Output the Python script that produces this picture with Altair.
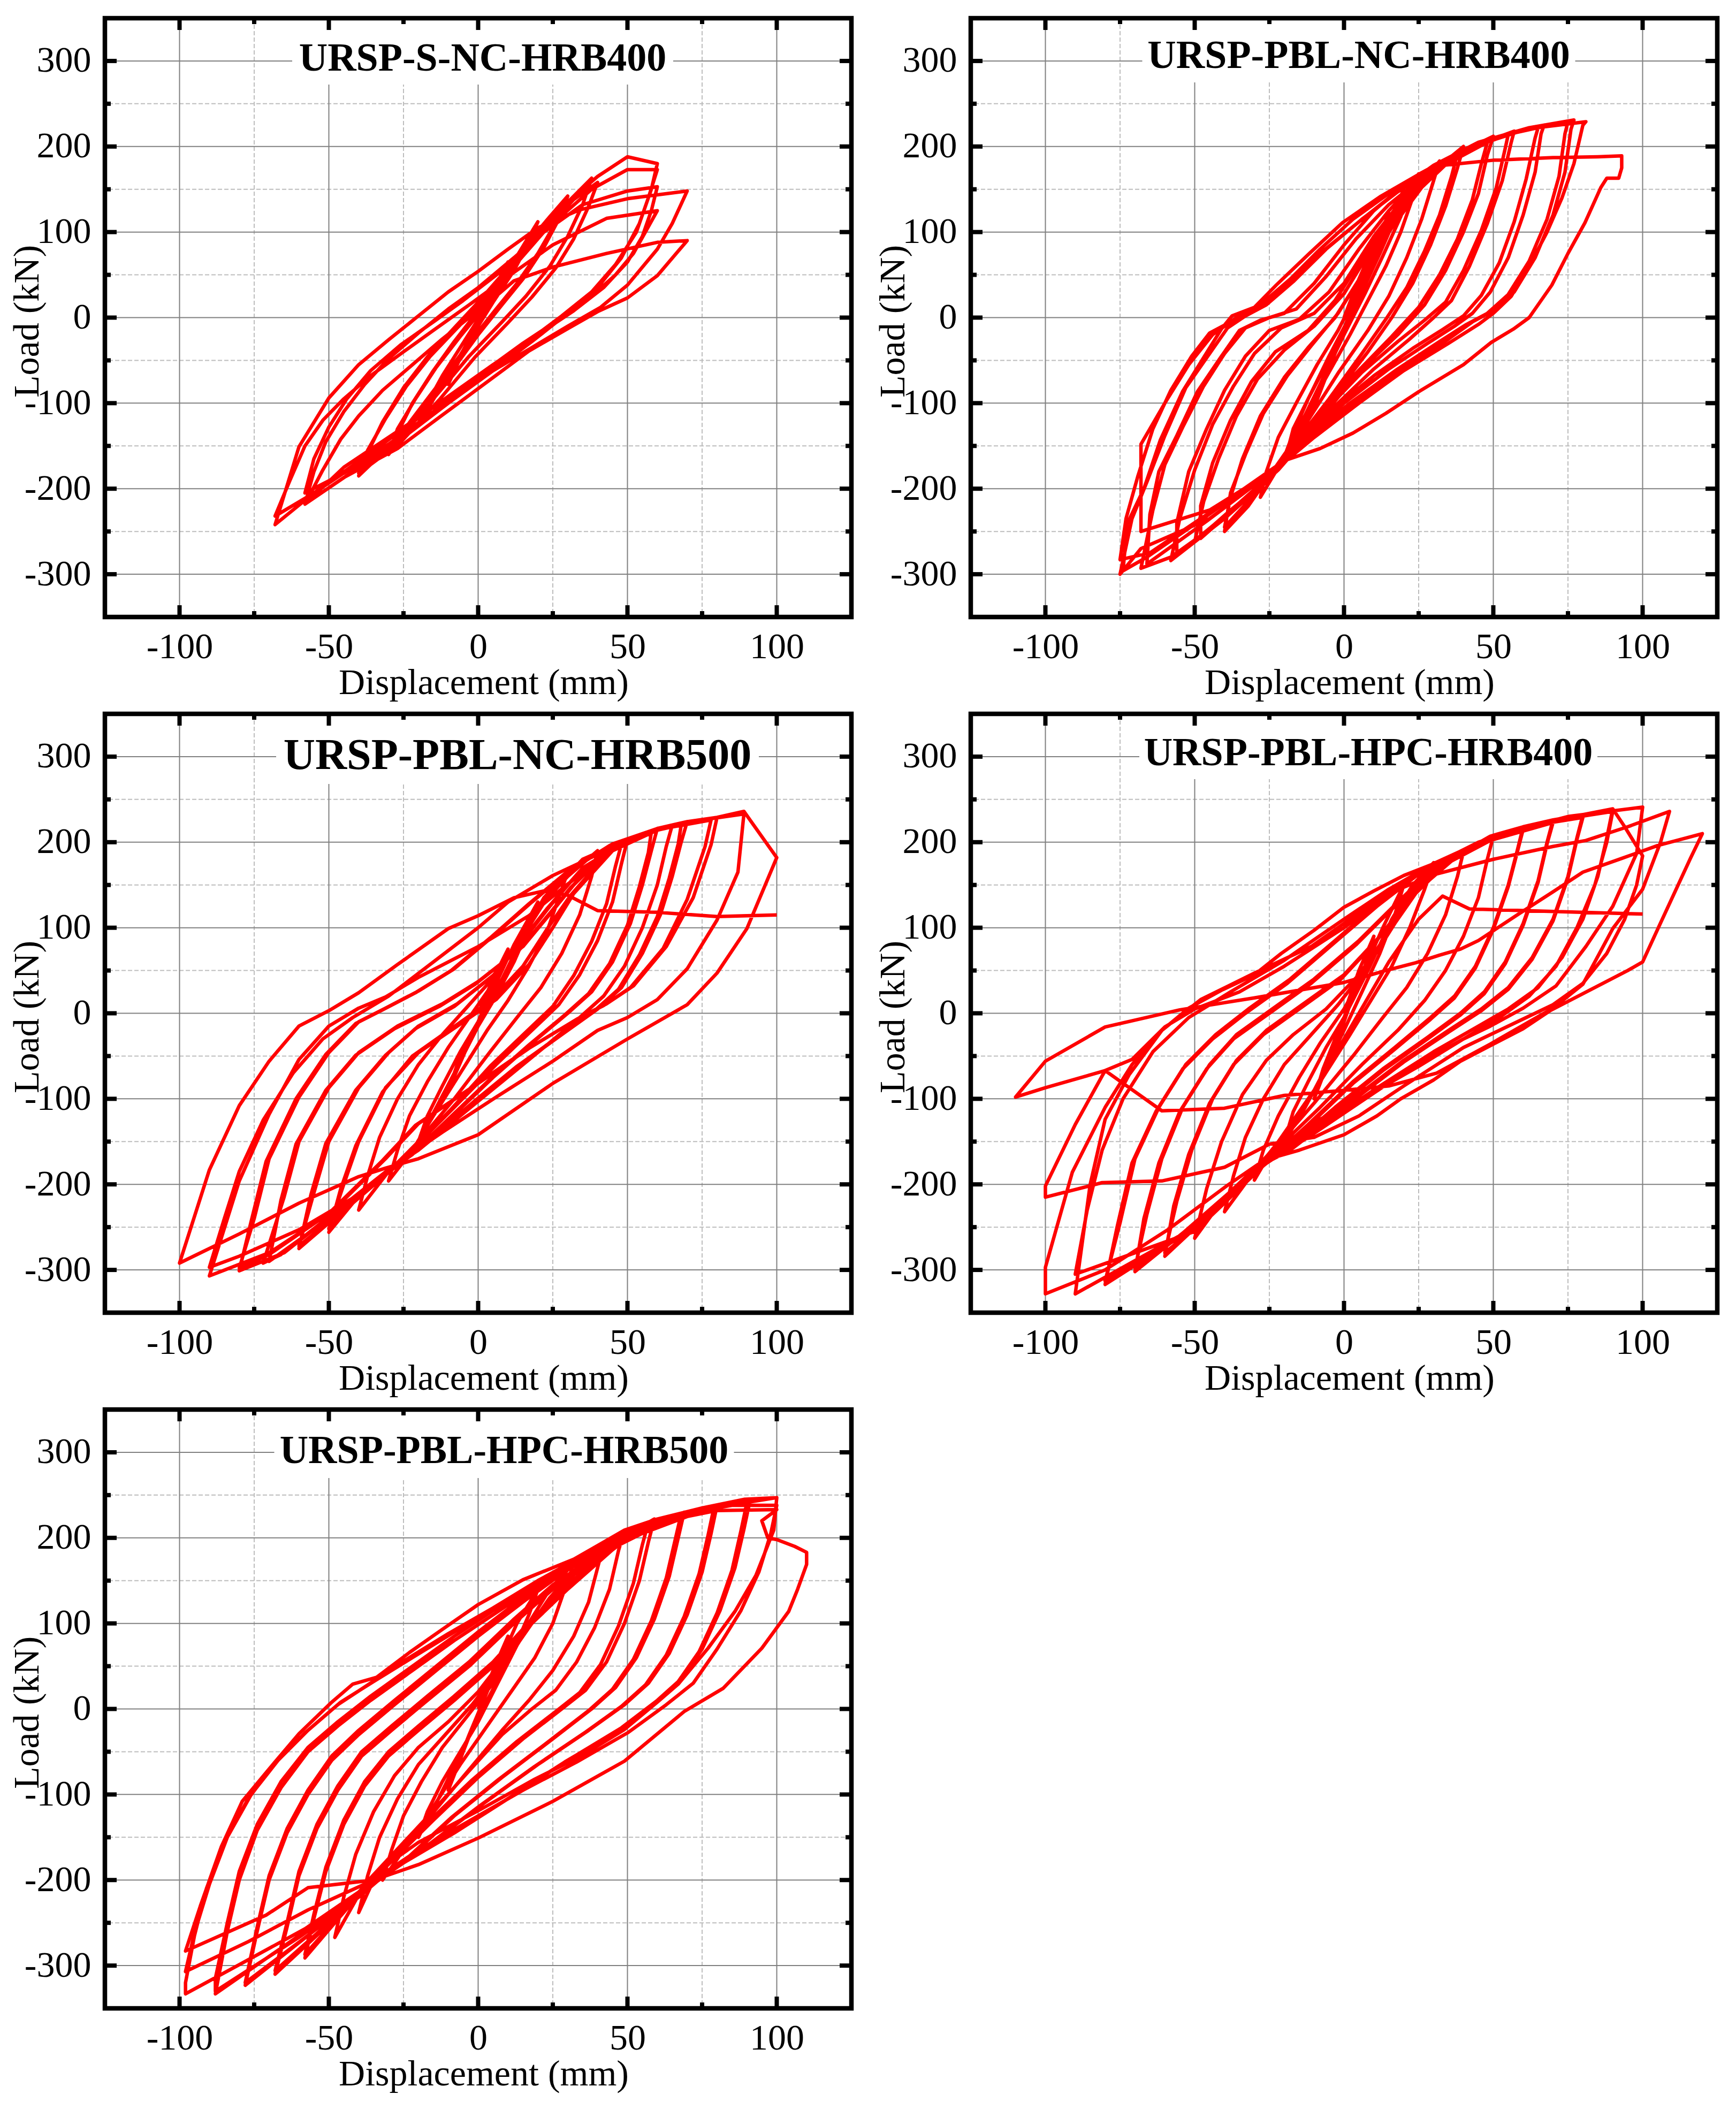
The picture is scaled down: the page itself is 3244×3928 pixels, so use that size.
import altair as alt
import pandas as pd

# ---------------- data ----------------
TITLES = ["URSP-S-NC-HRB400", "URSP-PBL-NC-HRB400", "URSP-PBL-NC-HRB500",
          "URSP-PBL-HPC-HRB400", "URSP-PBL-HPC-HRB500"]
X_MAJOR = [-100, -50, 0, 50, 100]
X_MINOR = [-75, -25, 25, 75]
Y_MAJOR = [-300, -200, -100, 0, 100, 200, 300]
Y_MINOR = [-250, -150, -50, 50, 150, 250]
X_TITLE = "Displacement (mm)"
Y_TITLE = "Load (kN)"

P1 = [
(0,0),(5,32),(10,65),
(7,42),(3,15),(0,-5),(-5,-38),(-10,-78),
(-7,-55),(-3,-25),(0,-5),(6,30),(13,72),(20,112),
(17,88),(12,55),(5,18),(0,-10),(-8,-55),(-14,-90),(-20,-125),
(-17,-100),(-12,-68),(-6,-35),(0,-2),(8,42),(16,85),(24,118),(30,142),
(27,115),(22,82),(15,45),(8,15),(0,-20),(-10,-68),(-20,-115),(-30,-160),
(-27,-130),(-21,-95),(-14,-58),(-6,-22),(2,12),(11,55),(20,95),(28,132),
(25,105),(20,75),(13,40),(6,10),(-2,-25),(-12,-72),(-22,-118),(-30,-155),
(-27,-135),(-22,-100),(-15,-62),(-8,-28),(0,8),(10,55),(20,100),(30,135),(38,163),
(35,132),(30,95),(24,60),(16,25),(8,-5),(-3,-45),(-15,-95),(-28,-145),(-40,-185),
(-37,-155),(-31,-118),(-24,-80),(-16,-45),(-7,-12),(2,20),(12,60),(22,100),(32,138),(40,158),
(37,130),(32,92),(26,58),(18,24),(10,-6),(-1,-46),(-13,-96),(-26,-146),(-40,-182),
(-37,-158),(-32,-122),(-25,-82),(-17,-46),(-8,-12),(0,18),(10,58),(20,98),(30,135),(40,165),(50,188),(60,180),
(58,150),(54,110),(48,70),(40,35),(30,5),(18,-28),(5,-62),(-10,-100),(-25,-140),(-42,-180),(-58,-218),
(-55,-180),(-51,-145),(-45,-110),(-38,-78),(-30,-48),(-20,-18),(-10,10),(0,35),(12,70),(25,110),(38,150),(50,173),(60,173),
(57,140),(53,100),(46,62),(38,30),(28,2),(15,-32),(0,-70),(-15,-110),(-30,-148),(-45,-182),(-58,-205),
(-55,-165),(-50,-128),(-44,-95),(-36,-62),(-26,-32),(-15,-5),(-5,20),(8,55),(20,95),(35,132),(50,148),(60,153),
(58,125),(55,95),(50,65),(42,35),(32,8),(20,-20),(5,-55),(-10,-92),(-25,-130),(-40,-168),(-55,-205),(-68,-242),
(-60,-151),(-50,-94),(-40,-55),(-30,-26),(-20,2),(-10,30),(0,54),(10,80),(20,105),(34,126),(50,139),(70,148),
(65,110),(60,80),(50,38),(41,12),(30,-10),(18,-35),(5,-62),(-10,-98),(-25,-138),(-40,-170),(-55,-205),(-68,-232),
(-63,-190),(-58,-150),(-52,-120),(-45,-95),(-36,-68),(-25,-40),(-15,-15),(-3,15),(10,48),(25,85),(43,116),(60,125),
(56,100),(52,75),(46,50),(38,25),(28,0),(15,-30),(0,-68),(-15,-105),(-30,-140),(-45,-175),(-58,-218),
(-52,-178),(-46,-142),(-40,-115),(-32,-85),(-22,-55),(-12,-25),(-3,0),(5,22),(12,43),(25,59),(43,75),(60,88),(70,90),
(60,49),(50,23),(40,7),(30,-13),(17,-39),(0,-83),(-12,-114),(-27,-153),(-45,-187),(-58,-218),
]

P2 = [
(0,0),(5,45),(10,85),
(7,55),(3,20),(0,-15),(-5,-60),(-10,-105),
(-7,-75),(-3,-40),(0,-15),(5,35),(10,80),(15,122),
(12,90),(8,55),(3,15),(0,-15),(-5,-60),(-10,-100),(-15,-140),
(-12,-110),(-8,-78),(-3,-40),(2,0),(7,45),(13,95),(20,150),
(17,115),(12,75),(6,30),(0,-15),(-6,-65),(-12,-115),(-20,-170),
(-17,-130),(-11,-88),(-5,-45),(1,-5),(8,45),(15,100),(22,150),
(19,118),(13,72),(7,28),(0,-20),(-8,-78),(-15,-128),(-21,-172),
(-17,-135),(-12,-95),(-6,-55),(0,-15),(6,30),(12,80),(18,125),(25,168),
(23,140),(19,100),(14,60),(8,20),(2,-20),(-6,-70),(-14,-120),(-22,-175),(-28,-210),
(-26,-180),(-22,-140),(-16,-100),(-9,-55),(-2,-15),(6,40),(14,95),(22,140),(32,183),
(30,160),(26,115),(21,70),(15,25),(8,-15),(-2,-65),(-12,-120),(-22,-170),(-32,-220),(-40,-250),
(-38,-205),(-33,-160),(-27,-112),(-19,-68),(-11,-33),(-2,5),(7,55),(16,105),(26,152),(38,192),
(36,165),(32,120),(27,78),(21,35),(14,-2),(6,-42),(-5,-95),(-16,-145),(-25,-188),(-40,-245),
(-38,-210),(-34,-165),(-28,-115),(-20,-70),(-12,-35),(-3,0),(6,50),(15,100),(25,150),(33,180),(40,200),
(38,175),(34,130),(29,85),(23,40),(16,0),(8,-40),(-3,-90),(-14,-140),(-24,-185),(-38,-225),(-50,-262),
(-47,-215),(-42,-165),(-36,-115),(-29,-72),(-20,-38),(-10,-10),(0,28),(10,85),(20,135),(32,175),(48,205),
(46,180),(43,138),(38,92),(32,50),(25,12),(16,-22),(4,-65),(-8,-112),(-18,-152),(-25,-188),(-48,-258),
(-48,-220),(-44,-170),(-38,-120),(-31,-75),(-23,-40),(-12,-15),(-3,20),(8,80),(18,130),(28,165),(40,195),(50,212),
(48,190),(45,145),(40,100),(34,55),(27,15),(18,-20),(6,-60),(-6,-110),(-16,-150),(-24,-185),(-40,-235),(-58,-284),
(-55,-235),(-50,-178),(-44,-125),(-37,-80),(-30,-42),(-21,-12),(-10,5),(0,40),(10,95),(20,140),(32,178),(45,203),(55,214),
(54,198),(51,152),(46,102),(40,55),(34,18),(27,-3),(18,-28),(6,-64),(-8,-115),(-18,-155),(-24,-182),(-40,-232),(-56,-278),
(-56,-240),(-52,-180),(-46,-130),(-40,-85),(-33,-45),(-25,-15),(-15,-2),(-5,30),(5,80),(15,125),(25,162),(40,196),(57,218),
(56,205),(53,160),(48,110),(42,60),(36,20),(30,0),(22,-25),(10,-60),(-5,-110),(-15,-150),(-22,-178),(-40,-235),(-58,-280),(-68,-293),
(-64,-225),(-60,-172),(-54,-128),(-47,-80),(-40,-42),(-33,-12),(-25,0),(-16,10),(-6,48),(4,92),(15,132),(26,163),(40,195),(52,212),(65,222),
(64,210),(61,162),(57,112),(52,64),(46,26),(40,2),(33,-14),(23,-36),(10,-68),(-4,-108),(-16,-148),(-24,-180),(-46,-238),(-66,-288),
(-65,-230),(-62,-180),(-56,-138),(-49,-86),(-41,-45),(-35,-15),(-28,-3),(-20,5),(-10,40),(0,85),(10,125),(20,155),(32,180),(45,205),(55,215),(67,225),
(66,215),(64,170),(60,120),(55,70),(49,30),(43,5),(37,-10),(28,-30),(15,-60),(0,-100),(-12,-140),(-22,-175),(-45,-235),(-68,-270),(-75,-300),
(-71,-235),(-66,-192),(-60,-138),(-53,-82),(-45,-42),(-39,-12),(-33,2),(-26,15),(-17,42),(-6,80),(6,115),(18,147),(30,174),(45,202),(60,219),(75,229),
(74,215),(72,165),(68,115),(62,66),(55,27),(48,5),(41,-8),(32,-28),(18,-60),(2,-100),(-12,-140),(-23,-175),(-46,-232),(-66,-280),(-74,-296),
(-72.6,-241),(-67,-200),(-61.5,-143),(-54,-86),(-46.7,-45),(-41,-13),(-37.5,2),(-30,12),(-22.7,38),(-11.6,75),(-0.5,111),(12.4,142),(25.3,168),(36.4,189),(49,209),(62,222),(77,231),
(76,220),(74,170),(70,120),(64,70),(57,30),(50,8),(43,-5),(35,-25),(22,-55),(5,-95),(-10,-135),(-22,-172),(-45,-228),(-65,-275),(-75,-283),
(-73,-235),(-69,-185),(-64,-130),(-58,-85),(-51,-45),(-45,-18),(-38,-5),(-30,8),(-20,35),(-8,75),(5,112),(18,148),(30,178),(45,205),(60,220),(81,229),
(80,225),(77,180),(73,140),(68,100),(62,60),(56,25),(50,5),(45,-8),(35,-30),(20,-62),(5,-100),(-10,-140),(-22,-175),(-45,-225),(-68,-250),
(-68,-148),(-60,-100),(-52,-55),(-44,-20),(-36,0),(-28,15),(-18,45),(-8,80),(3,115),(15,145),(25,165),(33,178),(50,184),(70,187),(85,188),(93,189),
(93,175),(92,163),(88,163),(86,152),(80.7,111),(75,75),(69.6,38),(62,0),(56.7,-13.5),(49.3,-29),(40,-55),(25.3,-86),(14,-112),(3,-135),(-8,-153),(-19,-166),
]

P3 = [
(0,0),(5,40),(10,75),
(7,45),(3,15),(0,-10),(-5,-50),(-10,-90),
(-7,-60),(-3,-30),(0,-10),(6,35),(12,80),(20,130),
(17,100),(12,60),(6,20),(0,-15),(-8,-70),(-14,-110),(-20,-150),
(-17,-120),(-12,-85),(-6,-45),(0,-10),(8,40),(15,90),(22,135),(30,165),
(27,135),(23,95),(17,55),(10,15),(3,-20),(-6,-70),(-15,-120),(-22,-160),(-30,-196),
(-27,-160),(-23,-120),(-17,-80),(-10,-40),(-3,-5),(5,35),(13,85),(22,130),(30,160),(40,190),
(38,160),(34,115),(28,70),(21,30),(13,-5),(4,-45),(-8,-100),(-20,-150),(-30,-185),(-40,-230),
(-37,-190),(-33,-145),(-27,-100),(-20,-60),(-12,-25),(-3,10),(6,45),(15,90),(24,140),(35,180),(50,203),
(48,175),(45,130),(40,85),(34,45),(27,10),(18,-20),(6,-60),(-8,-110),(-20,-152),(-30,-185),(-42,-222),(-50,-256),
(-46,-205),(-41,-155),(-32,-92),(-22,-50),(-9,-18),(4,14),(15,55),(23,98),(31,138),(43,186),(48,198),
(46,172),(43,128),(38,84),(32,44),(25,8),(16,-22),(4,-62),(-9,-112),(-21,-155),(-30,-186),(-42,-222),(-50,-252),
(-45,-200),(-40,-150),(-31,-87),(-20,-46),(-7,-15),(6,16),(17,57),(25,100),(32,140),(45,190),(60,216),
(58,190),(55,150),(51,105),(45,60),(38,25),(30,0),(18,-35),(5,-75),(-10,-125),(-22,-165),(-30,-185),(-45,-230),(-60,-275),
(-56,-212),(-51,-152),(-41,-90),(-31,-49),(-21,-18),(-8,8),(5,44),(14,82),(23,122),(34,166),(48,200),(58,212),
(57,188),(54,148),(50,103),(44,58),(37,23),(29,-2),(17,-37),(4,-77),(-11,-127),(-23,-167),(-30,-186),(-46,-232),(-60,-272),
(-55,-210),(-50,-150),(-40,-87),(-30,-46),(-20,-15),(-7,11),(6,47),(15,85),(24,125),(35,170),(50,202),(65,220),
(63,195),(60,150),(55,100),(49,55),(42,20),(34,-5),(22,-40),(8,-80),(-6,-120),(-20,-160),(-30,-183),(-50,-240),(-70,-290),
(-66,-218),(-61,-153),(-51,-90),(-41,-49),(-28,-18),(-13,8),(-1,34),(14,75),(24,117),(31,147),(44,192),(58,213),(68,220),
(67,198),(64,158),(60,113),(54,68),(47,28),(39,3),(27,-27),(13,-62),(-1,-102),(-16,-147),(-28,-177),(-46,-227),(-66,-282),(-72,-292),
(-65,-215),(-60,-150),(-50,-87),(-40,-46),(-27,-15),(-12,11),(0,37),(15,78),(25,120),(32,150),(45,195),(60,216),(70,224),
(68,200),(65,160),(61,115),(55,70),(48,30),(40,5),(28,-25),(14,-60),(0,-100),(-15,-145),(-27,-175),(-45,-225),(-65,-280),(-80,-301),
(-76,-243),(-71,-173),(-61,-100),(-51,-48),(-41,-12),(-32,4),(-21,24),(-9,50),(4,88),(17,128),(29,163),(44,196),(59,214),(78,226),
(76,195),(70,133),(62,76),(51,30),(42,9),(33,-7),(16,-43),(-1,-84),(-21,-131),(-32,-172),(-50,-234),(-70,-282),(-80,-298),
(-75,-240),(-70,-170),(-60,-98),(-50,-46),(-40,-10),(-31,6),(-20,26),(-8,52),(5,90),(18,130),(30,165),(45,198),(60,216),(80,229),
(78,197),(72,135),(63,78),(52,32),(43,11),(34,-5),(17,-41),(0,-82),(-20,-129),(-31,-170),(-49,-232),(-70,-280),(-90,-307),
(-80,-196),(-70,-118),(-60,-54),(-50,-15),(-40,6),(-31,19),(-20,42),(0,78),(17,114),(30,151),(45,190),(60,214),(75,226),(89,233),
(87,165),(80,109),(70,52),(60,16),(50,-5),(40,-20),(25,-56),(6,-98),(-12,-139),(-27,-175),(-40,-212),(-60,-253),(-80,-284),(-90,-297),
(-85,-240),(-80,-185),(-72,-125),(-62,-70),(-52,-30),(-42,-5),(-30,20),(-15,60),(0,100),(10,130),(25,161),(36,179),(50,202),(60,216),(70,224),(80,229),(89,236),(100,182),
(90,99),(80,47),(70,10),(50,-30),(25,-82),(0,-142),(-20,-170),(-31,-181),(-40,-191),(-60,-222),(-80,-258),(-100,-292),
(-90,-183),(-80,-108),(-70,-56),(-60,-15),(-50,3),(-40,24),(-27,57),(-10,99),(0,114),(12,135),(22,143),(30,138),(40,120),(60,118),(80,113),(100,115),
]

P4 = [
(0,0),(5,50),(10,90),
(7,55),(3,20),(0,-10),(-5,-55),(-10,-100),
(-7,-65),(-3,-30),(0,-5),(6,45),(13,100),(20,150),
(17,115),(12,70),(6,25),(0,-20),(-7,-70),(-13,-110),(-20,-150),
(-17,-115),(-12,-80),(-6,-40),(0,-5),(8,50),(16,110),(23,150),(30,176),
(27,145),(22,100),(16,55),(9,15),(2,-25),(-8,-80),(-18,-130),(-25,-165),(-30,-195),
(-27,-160),(-22,-120),(-15,-75),(-8,-35),(0,5),(8,55),(17,110),(25,155),(40,189),
(38,160),(34,115),(28,70),(21,30),(13,-5),(3,-50),(-10,-105),(-20,-145),(-28,-175),(-40,-232),
(-37,-190),(-33,-145),(-27,-100),(-20,-60),(-11,-25),(-2,10),(8,55),(17,105),(25,150),(35,180),(50,207),
(48,180),(45,135),(40,90),(34,50),(27,15),(18,-20),(6,-60),(-8,-110),(-20,-150),(-28,-175),(-40,-215),(-50,-263),
(-46,-205),(-41,-150),(-34,-95),(-26,-55),(-17,-25),(-6,5),(5,45),(15,95),(25,145),(40,190),(60,218),
(58,190),(55,150),(50,100),(44,55),(37,20),(29,-5),(17,-40),(3,-80),(-12,-130),(-24,-168),(-32,-190),(-45,-235),(-60,-284),
(-57,-225),(-52,-165),(-45,-105),(-37,-60),(-27,-25),(-15,5),(-1,40),(11,85),(21,130),(34,174),(48,202),(60,215),
(58,188),(55,148),(50,98),(44,53),(37,18),(29,-7),(17,-42),(3,-82),(-12,-132),(-24,-170),(-32,-192),(-45,-237),(-60,-280),
(-56,-220),(-51,-160),(-44,-100),(-36,-55),(-26,-20),(-14,10),(0,45),(12,90),(22,135),(35,178),(50,205),(70,226),
(68,200),(65,155),(60,105),(54,60),(47,25),(39,0),(28,-28),(13,-65),(-3,-110),(-18,-155),(-28,-178),(-48,-240),(-70,-302),
(-67,-240),(-62,-175),(-55,-115),(-46,-65),(-37,-30),(-25,0),(-11,35),(4,80),(17,125),(29,165),(49,202),(70,223),
(68,198),(65,153),(60,103),(54,58),(47,23),(39,-2),(28,-30),(13,-67),(-3,-112),(-18,-157),(-28,-180),(-48,-242),(-70,-298),
(-66,-235),(-61,-170),(-54,-110),(-45,-60),(-36,-25),(-24,5),(-10,40),(5,85),(18,130),(30,170),(50,206),(65,222),(80,232),
(78,205),(75,160),(70,110),(63,65),(55,30),(46,5),(35,-20),(20,-55),(3,-100),(-14,-145),(-27,-175),(-50,-250),(-80,-317),
(-76,-250),(-71,-175),(-63,-115),(-54,-65),(-44,-30),(-33,0),(-19,35),(-4,80),(11,125),(24,160),(44,197),(64,220),(80,229),
(78,203),(75,158),(70,108),(63,63),(55,28),(46,3),(35,-22),(20,-57),(3,-102),(-14,-147),(-27,-177),(-50,-252),(-80,-313),
(-75,-245),(-70,-170),(-62,-110),(-53,-60),(-43,-25),(-32,5),(-18,40),(-3,85),(12,130),(25,165),(45,200),(65,222),(90,239),
(88,205),(85,160),(80,110),(73,65),(65,30),(55,5),(45,-15),(30,-45),(12,-85),(-5,-125),(-18,-160),(-28,-178),(-55,-260),(-90,-328),
(-85,-200),(-80,-124),(-72,-72),(-61,-20),(-48,16),(-30,47),(-11,78),(0,105),(12,135),(25,162),(45,200),(70,225),(90,236),
(88,200),(84,150),(78,100),(71,55),(62,20),(52,-5),(40,-30),(22,-65),(5,-105),(-12,-145),(-26,-175),(-50,-255),(-90,-305),
(-86,-230),(-81,-160),(-74,-100),(-64,-45),(-52,-5),(-38,25),(-20,62),(0,110),(15,145),(30,175),(50,207),(75,230),(100,241),
(98,187),(90,125),(81,78),(71,32),(60,6),(49,-15),(40,-30),(25,-62),(7,-98),(-11,-129),(-26,-170),(-39,-201),(-59,-253),(-80,-300),(-100,-328),
(-100,-297),(-91,-186),(-80,-110),(-71,-60),(-61,-20),(-52,6),(-41,27),(-30,45),(-21,70),(-10,97),(0,124),(10,143),(20,161),(31,176),(40,189),(49,207),(60,218),(70,226),(80,232),(90,239),(94,218),(100,184),
(98,150),(94,110),(88,70),(80,35),(70,10),(55,-15),(40,-40),(20,-85),(5,-120),(-10,-145),(-25,-153),(-40,-180),(-61,-196),(-81,-198),(-100,-215),
(-100,-202),(-90,-130),(-80,-67),(-71,-54),(-60,-16),(-50,5),(-35,25),(-20,55),(0,100),(15,140),(30,162),(50,180),(70,195),(81,202),(95,218),(109,236),
(106,200),(100,145),(90,99),(80,34),(70,6),(49,-36),(31,-70),(15,-85),(0,-90),(-20,-96),(-40,-111),(-61,-114),(-80,-67),(-100,-87),(-110,-98),
(-100,-56),(-80,-16),(-55,4),(-30,18),(0,36),(14,50),(24,59),(32,68),(39,75),(45,85),(58,115),(70,142),(80,165),(93,181),(105,196),(120,210),
(116,181),(105,98),(100,60),(95,50),(69,3),(60,-18),(50,-36),(39,-56),(30,-78),(19,-100),(11,-120),(0,-142),(-15,-160),(-27,-172),
(-15,-120),(-5,-60),(5,0),(15,60),(25,110),(33,137),(42,122),(70,119),(100,116),
]

P5 = [
(0,0),(5,45),(10,85),
(7,55),(3,20),(0,-5),(-5,-50),(-10,-95),
(-7,-65),(-3,-30),(0,-5),(6,45),(13,100),(20,140),
(17,110),(12,70),(6,30),(0,-10),(-7,-60),(-14,-110),(-20,-150),
(-17,-120),(-12,-85),(-6,-50),(0,-15),(8,40),(16,95),(24,140),(32,170),
(29,140),(25,100),(19,60),(12,25),(4,-15),(-6,-65),(-16,-120),(-25,-165),(-32,-200),
(-29,-165),(-25,-125),(-19,-85),(-12,-45),(-4,-10),(5,30),(14,80),(24,130),(33,165),(42,192),
(40,165),(37,125),(32,85),(25,45),(17,10),(8,-25),(-4,-75),(-16,-125),(-27,-165),(-35,-200),(-40,-238),
(-37,-195),(-33,-150),(-27,-105),(-20,-65),(-11,-30),(-2,5),(8,50),(18,100),(28,145),(40,185),(49,209),
(47,185),(44,140),(39,95),(33,55),(26,22),(18,0),(8,-30),(-5,-80),(-18,-130),(-30,-175),(-38,-205),(-48,-267),
(-45,-220),(-41,-170),(-35,-120),(-28,-78),(-20,-45),(-10,-15),(0,20),(10,65),(20,110),(30,150),(42,188),(59,222),
(57,195),(54,150),(49,100),(43,55),(36,22),(28,0),(15,-35),(0,-80),(-15,-130),(-28,-175),(-37,-205),(-58,-291),
(-55,-245),(-51,-190),(-45,-135),(-38,-90),(-30,-55),(-20,-25),(-8,10),(5,50),(18,100),(30,140),(45,186),(57,218),
(55,192),(52,147),(47,97),(41,52),(34,19),(26,-3),(13,-38),(-2,-83),(-17,-133),(-29,-178),(-37,-205),(-58,-287),
(-55,-240),(-51,-185),(-45,-130),(-38,-85),(-30,-50),(-20,-20),(-8,15),(5,55),(18,105),(30,145),(45,190),(69,230),
(67,200),(64,155),(59,105),(53,60),(46,25),(38,0),(25,-35),(8,-80),(-8,-125),(-22,-170),(-34,-200),(-68,-310),
(-64,-255),(-60,-195),(-54,-140),(-47,-95),(-39,-55),(-29,-25),(-17,10),(-3,50),(12,100),(25,140),(45,188),(68,228),
(66,198),(63,153),(58,103),(52,58),(45,23),(37,-2),(24,-37),(7,-82),(-9,-127),(-23,-172),(-34,-200),(-68,-306),
(-64,-250),(-60,-190),(-54,-135),(-47,-90),(-39,-50),(-29,-20),(-17,15),(-3,55),(12,105),(25,145),(45,192),(80,238),
(78,205),(75,160),(70,110),(64,65),(57,30),(49,5),(37,-25),(20,-65),(2,-110),(-15,-155),(-28,-185),(-40,-218),(-78,-323),
(-74,-260),(-70,-200),(-64,-145),(-57,-100),(-49,-60),(-40,-30),(-28,5),(-14,45),(0,85),(15,125),(30,163),(50,202),(79,236),
(77,203),(74,158),(69,108),(63,63),(56,28),(48,3),(36,-27),(19,-67),(1,-112),(-16,-157),(-29,-187),(-40,-220),(-78,-320),
(-74,-255),(-70,-195),(-64,-140),(-57,-95),(-49,-55),(-40,-25),(-28,10),(-14,50),(0,90),(15,130),(30,168),(50,205),(70,230),(91,243),
(89,210),(86,165),(81,115),(75,70),(68,35),(60,10),(48,-22),(30,-60),(10,-105),(-8,-145),(-25,-180),(-40,-215),(-60,-265),(-88,-333),
(-84,-260),(-80,-200),(-74,-142),(-66,-92),(-57,-50),(-47,-20),(-36,10),(-22,45),(-8,80),(5,110),(20,145),(35,177),(55,212),(75,232),(90,241),
(88,208),(85,162),(80,112),(74,67),(67,32),(59,7),(47,-25),(29,-62),(9,-107),(-9,-147),(-26,-182),(-40,-217),(-60,-267),(-88,-330),
(-88,-315),(-84,-250),(-80,-190),(-74,-135),(-66,-85),(-57,-45),(-47,-15),(-36,15),(-22,50),(-8,85),(5,115),(20,148),(35,180),(55,215),(75,233),(100,247),
(99,209),(93,156),(86,114),(77,71),(67,29),(60,8),(49,-24),(34,-56),(19,-82),(0,-119),(-20,-156),(-31,-183),(-40,-214),(-58,-257),(-80,-299),(-98,-333),
(-98,-320),(-95,-265),(-91,-210),(-85,-155),(-77,-105),(-68,-63),(-58,-28),(-47,5),(-37,28),(-24,58),(-10,88),(5,118),(20,150),(40,188),(60,222),(80,238),(100,238),
(98,205),(94,160),(88,115),(80,70),(72,30),(63,5),(50,-28),(33,-62),(15,-95),(0,-125),(-20,-165),(-35,-200),(-57,-235),(-77,-272),(-98,-307),
(-95,-262),(-90,-205),(-84,-150),(-76,-100),(-67,-60),(-57,-25),(-46,8),(-35,32),(-22,60),(-8,90),(5,118),(20,150),(40,188),(60,218),(80,232),(100,233),(95,220),(97,200),(100,198),(106,190),(110,183),(110,169),
(107,140),(104,114),(95,71),(82,24),(69,-3),(49,-61),(25,-108),(0,-151),(-20,-182),(-35,-200),(-57,-209),(-71,-241),(-98,-283),
(-93,-230),(-86,-161),(-79,-108),(-69,-66),(-60,-29),(-49,8),(-42,29),(-34,37),(-23,66),(-12,93),(0,122),(15,151),(32,175),(41,193),(49,209),(60,222),(75,235),(89,245),(100,247),
]

SERIES = [P1, P2, P3, P4, P5]

# ---------------- styling ----------------
W, H = 1395, 1119
FONT = "Liberation Serif"
FS = 68
RED = "#ff0000"
# per-panel title style: font size, centre x (px in plot), baseline y (px), white box width, box bottom
TITLE_STYLE = [
    (74, 706, 98, 712, 124),
    (74, 725, 93, 809, 120),
    (82, 771, 103, 902, 131),
    (74, 743, 96, 856, 122),
    (74, 746, 100, 859, 128),
]


def xenc():
    return alt.X(
        "x:Q",
        scale=alt.Scale(domain=[-125, 125], nice=False, zero=False),
        axis=alt.Axis(
            values=X_MAJOR, grid=False, ticks=False, tickSize=0, domain=False,
            labelFont=FONT, labelFontSize=FS, labelColor="black", labelPadding=22,
            labelExpr="datum.value + ''", labelOverlap=False, labelFlush=False,
            title=X_TITLE, titleFont=FONT, titleFontSize=FS, titleFontWeight="normal",
            titleColor="black", titleBaseline="alphabetic", titleX=W / 2 + 10, titleY=143,
        ),
    )


def yenc():
    return alt.Y(
        "y:Q",
        scale=alt.Scale(domain=[-350, 350], nice=False, zero=False),
        axis=alt.Axis(
            values=Y_MAJOR, grid=False, ticks=False, tickSize=0, domain=False,
            labelFont=FONT, labelFontSize=FS, labelColor="black", labelPadding=26,
            labelExpr="datum.value + ''", labelOverlap=False, labelFlush=False,
            title=Y_TITLE, titleFont=FONT, titleFontSize=FS, titleFontWeight="normal",
            titleColor="black", titleBaseline="alphabetic", titleX=-125, titleY=566,
            titleAngle=270,
        ),
    )


def panel(points, title, style):
    tsize, cx, ty, bw, bb = style
    df = pd.DataFrame(points, columns=["x", "y"])
    df["i"] = range(len(df))
    one = pd.DataFrame({"k": [0]})
    dxM = pd.DataFrame({"x": X_MAJOR})
    dxm = pd.DataFrame({"x": X_MINOR})
    dyM = pd.DataFrame({"y": Y_MAJOR})
    dym = pd.DataFrame({"y": Y_MINOR})

    gx_minor = alt.Chart(dxm).mark_rule(color="#bdbdbd", strokeWidth=2, strokeDash=[8, 4]).encode(x=xenc())
    gy_minor = alt.Chart(dym).mark_rule(color="#bdbdbd", strokeWidth=2, strokeDash=[8, 4]).encode(y=yenc())
    gx_major = alt.Chart(dxM).mark_rule(color="#808080", strokeWidth=2).encode(x=xenc())
    gy_major = alt.Chart(dyM).mark_rule(color="#808080", strokeWidth=2).encode(y=yenc())

    box = alt.Chart(one).mark_rect(color="white").encode(
        x=alt.value(cx - bw / 2), x2=alt.value(cx + bw / 2), y=alt.value(5), y2=alt.value(bb))
    txt = alt.Chart(one).mark_text(
        text=title, font=FONT, fontWeight="bold", fontSize=tsize, color="black",
        align="center", baseline="alphabetic").encode(x=alt.value(cx), y=alt.value(ty))

    line = alt.Chart(df).mark_line(color=RED, strokeWidth=6.5, strokeJoin="round").encode(
        x=xenc(), y=yenc(), order="i:Q")

    L, l = 22, 11
    tb = alt.Chart(dxM).mark_rule(color="black", strokeWidth=8).encode(x=xenc(), y=alt.value(H), y2=alt.value(H - L))
    tt = alt.Chart(dxM).mark_rule(color="black", strokeWidth=8).encode(x=xenc(), y=alt.value(0), y2=alt.value(L))
    tbm = alt.Chart(dxm).mark_rule(color="black", strokeWidth=8).encode(x=xenc(), y=alt.value(H), y2=alt.value(H - l))
    ttm = alt.Chart(dxm).mark_rule(color="black", strokeWidth=8).encode(x=xenc(), y=alt.value(0), y2=alt.value(l))
    tl = alt.Chart(dyM).mark_rule(color="black", strokeWidth=8).encode(y=yenc(), x=alt.value(0), x2=alt.value(L))
    tr = alt.Chart(dyM).mark_rule(color="black", strokeWidth=8).encode(y=yenc(), x=alt.value(W), x2=alt.value(W - L))
    tlm = alt.Chart(dym).mark_rule(color="black", strokeWidth=8).encode(y=yenc(), x=alt.value(0), x2=alt.value(l))
    trm = alt.Chart(dym).mark_rule(color="black", strokeWidth=8).encode(y=yenc(), x=alt.value(W), x2=alt.value(W - l))

    frame = alt.Chart(one).mark_rect(filled=False, color="black", strokeWidth=8.5).encode(
        x=alt.value(0), x2=alt.value(W), y=alt.value(0), y2=alt.value(H))

    return alt.layer(
        gx_minor, gy_minor, gx_major, gy_major, box, txt, line,
        tb, tt, tbm, ttm, tl, tr, tlm, trm, frame,
    ).properties(width=W, height=H)


panels = [panel(p, t, s) for p, t, s in zip(SERIES, TITLES, TITLE_STYLE)]

row1 = alt.hconcat(panels[0], panels[1], spacing=39)
row2 = alt.hconcat(panels[2], panels[3], spacing=39)
chart = (
    alt.vconcat(row1, row2, panels[4], spacing=19)
    .properties(padding={"left": 9, "top": 21, "right": 10, "bottom": 10})
    .configure(background="white")
    .configure_view(strokeWidth=0)
)

chart.save("out.html", embed_options={"renderer": "svg", "actions": False})
